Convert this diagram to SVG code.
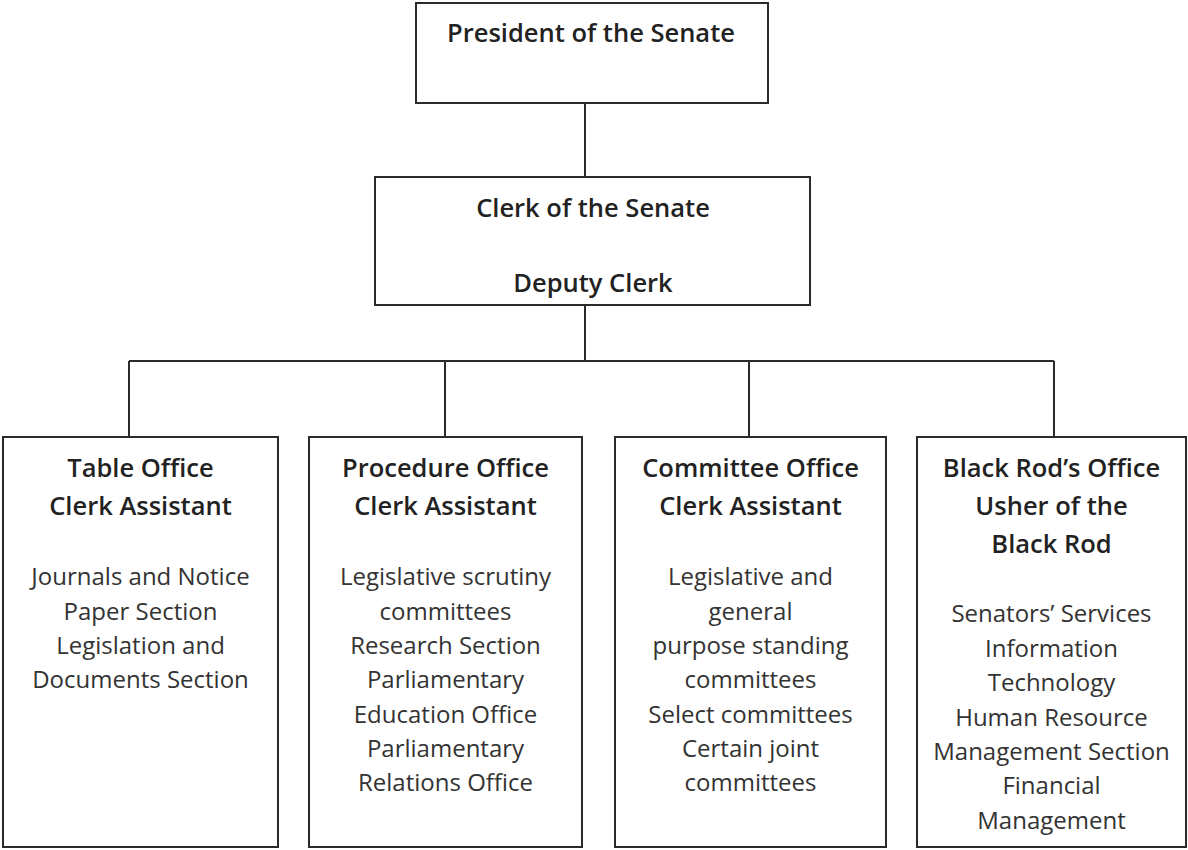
<svg xmlns="http://www.w3.org/2000/svg" width="1188" height="850" viewBox="0 0 1188 850">
  <style>
    .box { fill: #ffffff; stroke: #2b2b2b; stroke-width: 2; }
    .conn { fill: none; stroke: #2b2b2b; stroke-width: 2; }
    text { font-family: "Open Sans", "Noto Sans", "Liberation Sans", sans-serif; text-anchor: middle; }
    .head { font-size: 25.5px; font-weight: 600; fill: #222222; }
    .body { font-size: 24px; fill: #333333; }
  </style>
  <rect width="1188" height="850" fill="#ffffff"/>

  <g id="connectors">
    <line class="conn" x1="585" y1="103" x2="585" y2="177"/>
    <line class="conn" x1="585" y1="305" x2="585" y2="361"/>
    <line class="conn" x1="129" y1="361" x2="1054" y2="361"/>
    <line class="conn" x1="129" y1="361" x2="129" y2="437"/>
    <line class="conn" x1="445" y1="361" x2="445" y2="437"/>
    <line class="conn" x1="749" y1="361" x2="749" y2="437"/>
    <line class="conn" x1="1054" y1="361" x2="1054" y2="437"/>
  </g>

  <g id="president">
    <rect class="box" x="416" y="3" width="352" height="100"/>
    <text class="head" x="591" y="42">President of the Senate</text>
  </g>

  <g id="clerk">
    <rect class="box" x="375" y="177" width="435" height="128"/>
    <text class="head" x="593" y="217">Clerk of the Senate</text>
    <text class="head" x="593" y="292">Deputy Clerk</text>
  </g>

  <g id="table-office">
    <rect class="box" x="3" y="437" width="275" height="410"/>
    <text class="head" x="140.5" y="477">Table Office</text>
    <text class="head" x="140.5" y="515">Clerk Assistant</text>
    <text class="body" x="140.5" y="585">Journals and Notice</text>
    <text class="body" x="140.5" y="619.5">Paper Section</text>
    <text class="body" x="140.5" y="654">Legislation and</text>
    <text class="body" x="140.5" y="688">Documents Section</text>
  </g>

  <g id="procedure-office">
    <rect class="box" x="309" y="437" width="273" height="410"/>
    <text class="head" x="445.5" y="477">Procedure Office</text>
    <text class="head" x="445.5" y="515">Clerk Assistant</text>
    <text class="body" x="445.5" y="585">Legislative scrutiny</text>
    <text class="body" x="445.5" y="619.5">committees</text>
    <text class="body" x="445.5" y="654">Research Section</text>
    <text class="body" x="445.5" y="688">Parliamentary</text>
    <text class="body" x="445.5" y="722.5">Education Office</text>
    <text class="body" x="445.5" y="757">Parliamentary</text>
    <text class="body" x="445.5" y="791">Relations Office</text>
  </g>

  <g id="committee-office">
    <rect class="box" x="615" y="437" width="271" height="410"/>
    <text class="head" x="750.5" y="477">Committee Office</text>
    <text class="head" x="750.5" y="515">Clerk Assistant</text>
    <text class="body" x="750.5" y="585">Legislative and</text>
    <text class="body" x="750.5" y="619.5">general</text>
    <text class="body" x="750.5" y="654">purpose standing</text>
    <text class="body" x="750.5" y="688">committees</text>
    <text class="body" x="750.5" y="722.5">Select committees</text>
    <text class="body" x="750.5" y="757">Certain joint</text>
    <text class="body" x="750.5" y="791">committees</text>
  </g>

  <g id="black-rod-office">
    <rect class="box" x="917" y="437" width="269" height="410"/>
    <text class="head" x="1051.5" y="477">Black Rod’s Office</text>
    <text class="head" x="1051.5" y="515">Usher of the</text>
    <text class="head" x="1051.5" y="553">Black Rod</text>
    <text class="body" x="1051.5" y="622">Senators’ Services</text>
    <text class="body" x="1051.5" y="656.5">Information</text>
    <text class="body" x="1051.5" y="691">Technology</text>
    <text class="body" x="1051.5" y="725.5">Human Resource</text>
    <text class="body" x="1051.5" y="760">Management Section</text>
    <text class="body" x="1051.5" y="794">Financial</text>
    <text class="body" x="1051.5" y="828.5">Management</text>
  </g>
</svg>
